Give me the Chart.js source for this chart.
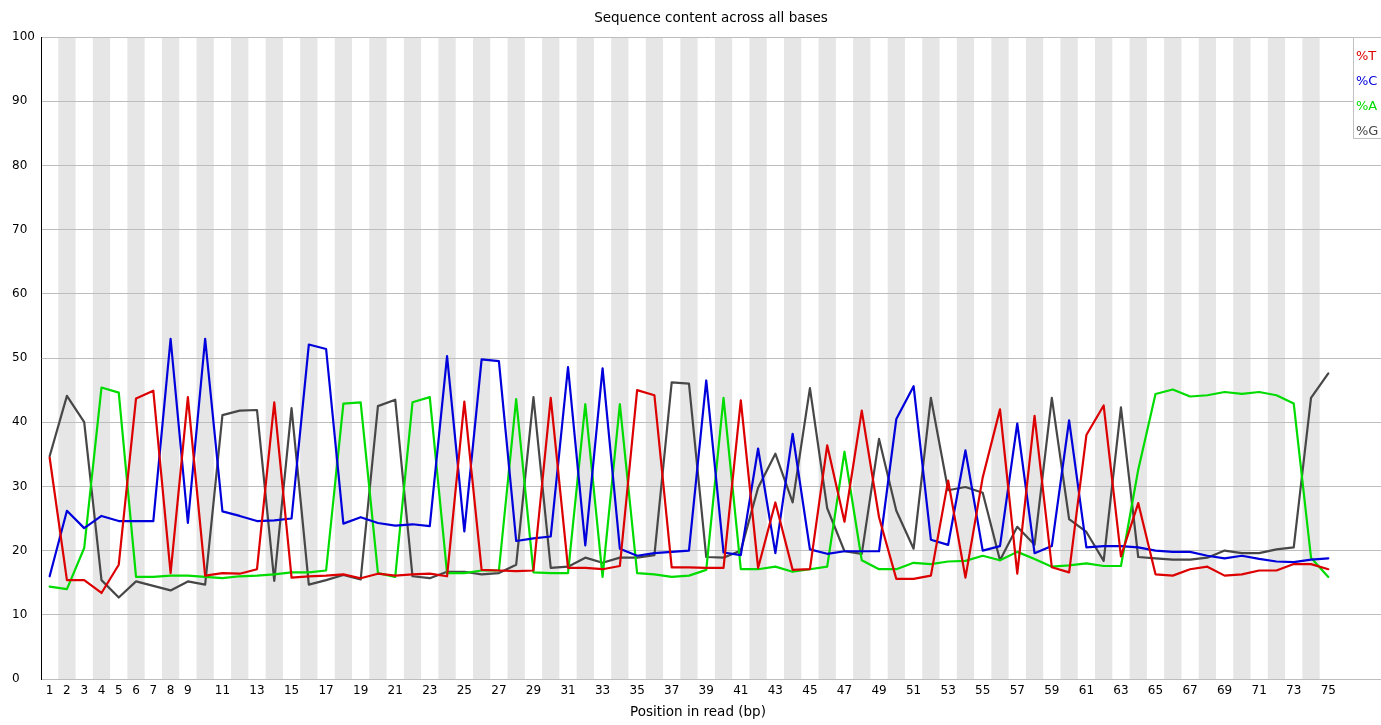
<!DOCTYPE html>
<html>
<head>
<meta charset="utf-8">
<script src="https://cdn.jsdelivr.net/npm/chart.js@4.4.1/dist/chart.umd.min.js"></script>
<style>
html,body{margin:0;padding:0;background:#fff;}
canvas{display:block;}
</style>
</head>
<body>
<canvas id="c" width="1381" height="725"></canvas>
<script>
const chartTitle = "Sequence content across all bases";
const xAxisTitle = "Position in read (bp)";
const positions = [1,2,3,4,5,6,7,8,9,10,11,12,13,14,15,16,17,18,19,20,21,22,23,24,25,26,27,28,29,30,31,32,33,34,35,36,37,38,39,40,41,42,43,44,45,46,47,48,49,50,51,52,53,54,55,56,57,58,59,60,61,62,63,64,65,66,67,68,69,70,71,72,73,74,75];
const xTickLabels = [1,2,3,4,5,6,7,8,9,11,13,15,17,19,21,23,25,27,29,31,33,35,37,39,41,43,45,47,49,51,53,55,57,59,61,63,65,67,69,71,73,75];
const yTickLabels = [0,10,20,30,40,50,60,70,80,90,100];
const seriesNames = ["%T","%C","%A","%G"];
const pctT = [34.5,15.4,15.4,13.4,17.8,43.7,44.9,16.5,43.9,16.1,16.5,16.4,17.1,43.1,15.8,16.0,16.1,16.3,15.7,
  16.4,16.1,16.3,16.4,16.0,43.2,17.0,16.9,16.8,16.9,43.8,17.3,17.3,17.1,17.6,45.0,44.2,17.4,17.4,
  17.3,17.3,43.4,17.3,27.5,17.0,17.1,36.4,24.5,41.8,25.2,15.6,15.6,16.1,30.9,15.8,31.4,42.0,16.4,
  41.0,17.4,16.6,38.0,42.6,19.1,27.4,16.3,16.1,17.1,17.5,16.1,16.3,16.9,16.9,17.9,17.9,17.1];
const pctC = [16.0,26.2,23.5,25.4,24.6,24.6,24.6,53.0,24.3,53.0,26.1,25.4,24.6,24.7,25.0,52.1,51.4,24.2,25.2,
  24.3,23.9,24.1,23.8,50.3,23.0,49.8,49.5,21.5,21.9,22.2,48.6,20.8,48.4,20.3,19.2,19.6,19.8,20.0,
  46.5,19.7,19.3,35.9,19.6,38.2,20.2,19.5,19.9,19.9,19.9,40.5,45.6,21.7,20.9,35.6,20.0,20.7,39.8,
  19.6,20.7,40.3,20.5,20.7,20.7,20.5,20.0,19.8,19.8,19.2,18.8,19.2,18.7,18.3,18.2,18.6,18.8];
const pctA = [14.4,14.0,20.4,45.4,44.6,15.9,15.9,16.1,16.1,15.9,15.7,16.0,16.1,16.3,16.6,16.6,16.9,42.9,43.1,
  16.5,15.9,43.1,43.9,16.5,16.5,16.9,16.9,43.6,16.6,16.5,16.5,42.8,15.9,42.8,16.5,16.3,15.9,16.1,
  17.0,43.8,17.1,17.1,17.5,16.7,17.1,17.5,35.4,18.5,17.1,17.1,18.1,17.9,18.3,18.4,19.2,18.5,19.8,
  18.7,17.5,17.7,18.0,17.6,17.6,32.6,44.4,45.1,44.0,44.2,44.7,44.4,44.7,44.2,42.9,18.9,15.9];
const pctG = [34.7,44.1,40.0,15.4,12.7,15.2,14.5,13.8,15.2,14.7,41.1,41.8,41.9,15.3,42.2,14.7,15.4,16.2,15.5,
  42.5,43.5,16.0,15.7,16.7,16.7,16.3,16.5,17.8,43.9,17.3,17.5,18.9,18.1,18.9,18.9,19.3,46.2,46.0,
  19.0,18.9,20.0,29.8,35.1,27.5,45.3,26.6,19.9,19.5,37.4,26.2,20.3,43.8,29.4,29.9,29.0,18.5,23.7,
  20.9,43.8,24.9,22.9,18.4,42.3,19.0,18.8,18.6,18.6,18.9,20.0,19.6,19.6,20.2,20.5,43.8,47.6];

const colors = ["#dc0000","#0000dc","#00dc00","#474747"];
const FONT = "'DejaVu Sans', sans-serif";

function pts(arr){ return positions.map((p,i)=>({x:p,y:arr[i]})); }

const stripes = {
  id:'stripes',
  beforeDraw(chart){
    const {ctx, chartArea:a, scales:{x}} = chart;
    ctx.save();
    ctx.fillStyle = '#fff';
    ctx.fillRect(0,0,chart.width,chart.height);
    ctx.fillStyle = '#e6e6e6';
    positions.forEach(p=>{
      if (p % 2 === 0) {
        const l = x.getPixelForValue(p-0.5), r = x.getPixelForValue(p+0.5);
        ctx.fillRect(l, a.top, r-l, a.bottom-a.top);
      }
    });
    ctx.restore();
  }
};

const extras = {
  id:'extras',
  afterDraw(chart){
    const ctx = chart.ctx;
    ctx.save();
    // x axis title
    ctx.fillStyle = '#000';
    ctx.font = "13.5px " + FONT;
    ctx.textAlign = 'center';
    ctx.textBaseline = 'alphabetic';
    ctx.fillText(xAxisTitle, 698, 716);
    // legend box
    ctx.fillStyle = '#fff';
    ctx.fillRect(1353, 37, 40, 101);
    ctx.strokeStyle = '#c0c0c0';
    ctx.lineWidth = 1;
    ctx.strokeRect(1353.5, 37.5, 40, 101);
    ctx.font = "13px " + FONT;
    ctx.textAlign = 'left';
    chart.data.datasets.forEach((d,i)=>{
      ctx.fillStyle = d.borderColor;
      ctx.fillText(d.label, 1356, 60 + i*25);
    });
    ctx.restore();
  }
};

new Chart(document.getElementById('c'), {
  type:'line',
  data:{
    datasets:[pctT,pctC,pctA,pctG].map((arr,i)=>({
      label: seriesNames[i],
      data: pts(arr),
      borderColor: colors[i],
      backgroundColor: colors[i],
      borderWidth: 2.2,
      borderJoinStyle: 'round',
      borderCapStyle: 'round',
      pointRadius: 0,
      tension: 0,
      fill: false
    }))
  },
  options:{
    responsive:false,
    animation:false,
    devicePixelRatio:1,
    layout:{padding:{left:12,right:0,top:0,bottom:0}},
    plugins:{
      legend:{display:false},
      tooltip:{enabled:false},
      title:{
        display:true, text:chartTitle, fullSize:false,
        color:'#000', font:{family:FONT,size:13.5,weight:'normal'},
        padding:{top:10.5,bottom:10.3}
      }
    },
    scales:{
      x:{
        type:'linear', min:0.5, max:78.05,
        afterBuildTicks(s){ s.ticks = xTickLabels.map(v=>({value:v})); },
        afterFit(s){ s.height = 46; },
        grid:{display:false, drawTicks:false},
        border:{display:true, color:'#bdbdbd', width:1},
        ticks:{autoSkip:false, maxRotation:0, padding:5, color:'#000',
          font:{family:FONT,size:12}, callback:(v)=>String(v)},
        title:{display:false}
      },
      y:{
        min:0, max:100,
        afterBuildTicks(s){ s.ticks = yTickLabels.map(v=>({value:v})); },
        afterFit(s){ s.width = 29; },
        grid:{color:'#bdbdbd', lineWidth:1, drawTicks:false},
        border:{display:true, color:'#000', width:1},
        ticks:{crossAlign:'far', padding:6, color:'#000', font:{family:FONT,size:12}}
      }
    }
  },
  plugins:[stripes, extras]
});
</script>
</body>
</html>
